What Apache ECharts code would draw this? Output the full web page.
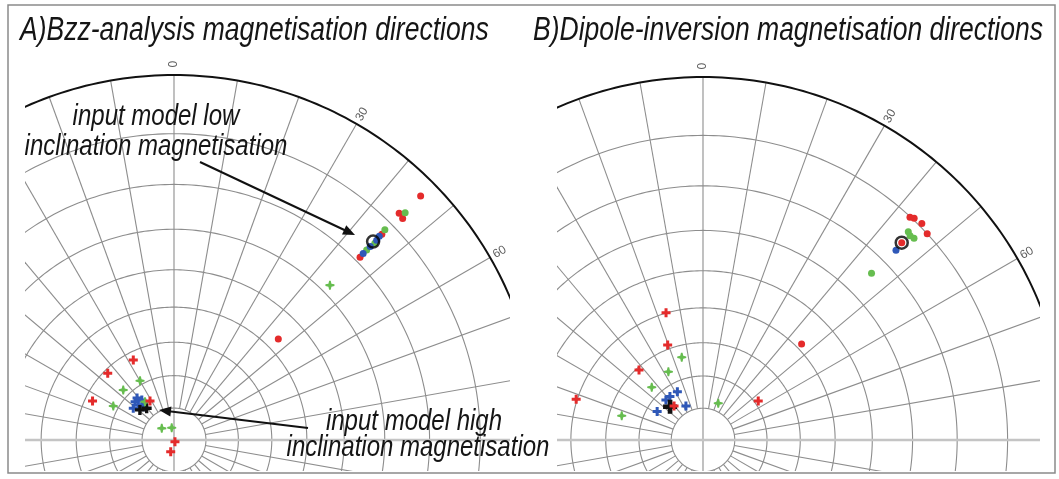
<!DOCTYPE html>
<html><head><meta charset="utf-8">
<script src="https://cdn.jsdelivr.net/npm/echarts@6/dist/echarts.min.js"></script>
<style>
html,body{margin:0;padding:0;background:#fff;}
#wrap{position:relative;width:1059px;height:479px;overflow:hidden;background:#fff;}
#pa,#pb{position:absolute;top:0;overflow:hidden;}
#pa{left:25px;width:485px;height:471px;}
#pb{left:557px;width:483px;height:471px;}
#overlay{position:absolute;left:0;top:0;width:1059px;height:479px;pointer-events:none;}
</style></head><body>
<div id="wrap"><div id="pa"></div><div id="pb"></div><div id="overlay"></div></div>
<script>
// ---------- grid definition ----------
const INCL_CIRCLES = [80, 70, 60, 50, 40, 30, 20, 10];
const DEC_SPOKES = [10,20,30,40,50,60,70,80,100,110,120,130,140,150,160,170,190,200,210,220,230,240,250,260,280,290,300,310,320,330,340,350];
const ANGLE_LABEL_DECS = [0, 30, 60];
const ANGLE_LABELS = ['0', '30', '60'];

// ---------- data: [declination, inclination] ----------
// A) Bzz-analysis
const A_redDots   = [[45.3,2.9],[44.8,7.6],[45.9,7.8],[45.3,12.6],[45.5,18.9],[45.9,46.6]];
const A_greenDots = [[45.5,6.8],[45.1,11.6],[45.6,14.8],[45.4,16.9]];
const A_blueDots  = [[45.4,14.1],[45.4,15.9],[45.4,17.9],[45.2,13.2]];
const A_ring      = [[45.1,14.8]];
const A_redCross   = [[333.0,62.4],[315.2,61.1],[295.6,62.2],[328.4,75.7],[150,89.4],[195.8,86.2]];
const A_greenCross = [[330.2,68.8],[314.6,67.9],[299.3,68.4],[322.9,75.0],[313.6,84.7],[349.4,86.1],[45.2,27.9]];
const A_blueCross  = [[314.5,73.0],[314.4,74.4],[307.9,73.9],[321.1,74.0],[317.3,75.9],[318.6,72.6]];
const A_blackCross = [[311.4,75.8],[319.3,76.9]];
// B) Dipole-inversion
const B_redDots   = [[42.9,10.1],[43.6,9.7],[45.3,9.4],[47.4,10.0],[45.8,48.5],[45.2,14.7]];
const B_greenDots = [[44.6,12.3],[46.3,12.4],[45.4,12.6],[45.3,23.7]];
const B_blueDots  = [[45.5,16.6]];
const B_ring      = [[45.2,14.7]];
const B_redCross   = [[343.8,49.9],[339.6,58.8],[317.6,60.7],[287.8,49.7],[54.8,68.9],[319.5,76.0]];
const B_greenCross = [[345.6,63.5],[333.1,66.2],[315.8,67.1],[286.6,63.7],[22.6,77.5]];
const B_blueCross  = [[332.0,72.9],[322.7,72.9],[317.2,72.9],[333.4,78.0],[301.8,73.1]];
const B_blackCross = [[315.3,75.3]];

(function () {
// ---------- styles ----------
const RED = '#e42b2b', GREEN = '#66bd4f', BLUE = '#2f58b8', BLACK = '#111111';
const GRID = '#8d8d8d';
const PLUS = 'path://M3,0H6V3H9V6H6V9H3V6H0V3H3Z';
const STAR = 'path://M3.7,0H5.3L6,3L9,3.7V5.3L6,6L5.3,9H3.7L3,6L0,5.3V3.7L3,3Z';
const FONT = '"Liberation Sans", Arial, sans-serif';
const RMAX = 1.06;   // radius axis extends a little past the primitive circle for the labels

// stereographic (equal-angle) projection of inclination
function proj(inc) { return Math.tan((90 - Math.abs(inc)) / 2 * Math.PI / 180); }
function toPolar(arr) { return arr.map(d => [proj(d[1]), d[0]]); }

function circleSeries(data, stroke, width) {
  return {
    type: 'custom', coordinateSystem: 'polar', silent: true, z: 1,
    data: data,
    renderItem: function (params, api) {
      const r = api.value(0), pts = [];
      for (let a = 0; a <= 360; a += 1) pts.push(api.coord([r, a]));
      return { type: 'polyline', shape: { points: pts }, style: { stroke: stroke, lineWidth: width, fill: null } };
    }
  };
}
function spokeSeries(data, r0, stroke, width) {
  return {
    type: 'custom', coordinateSystem: 'polar', silent: true, z: 1,
    data: data,
    renderItem: function (params, api) {
      const a = api.value(1);
      const p1 = api.coord([r0, a]), p2 = api.coord([1, a]);
      return { type: 'line', shape: { x1: p1[0], y1: p1[1], x2: p2[0], y2: p2[1] }, style: { stroke: stroke, lineWidth: width } };
    }
  };
}
function scat(data, symbol, size, color, z, extra) {
  return Object.assign({
    type: 'scatter', coordinateSystem: 'polar', silent: true, z: z,
    symbol: symbol, symbolSize: size, data: toPolar(data),
    itemStyle: { color: color, opacity: 1 }
  }, extra || {});
}

function panelOption(cx, cy, R, d) {
  return {
    animation: false,
    polar: { center: [cx, cy], radius: R * RMAX },
    angleAxis: { type: 'value', min: 0, max: 360, startAngle: 90, clockwise: true, show: false },
    radiusAxis: { type: 'value', min: 0, max: RMAX, show: false },
    series: [
      circleSeries(INCL_CIRCLES.map(i => [proj(i), 0]), GRID, 1.1),
      spokeSeries(DEC_SPOKES.map(a => [proj(80), a]), proj(80), GRID, 1.1),
      spokeSeries([[0, 0], [0, 180]], 0, GRID, 1.1),
      spokeSeries([[0, 90], [0, 270]], 0, '#c4c4c4', 2.6),
      circleSeries([[1, 0]], '#111', 2),
      {
        type: 'scatter', coordinateSystem: 'polar', silent: true, z: 3,
        symbol: 'circle', symbolSize: 1, itemStyle: { color: 'rgba(0,0,0,0)' },
        data: ANGLE_LABEL_DECS.map((a, i) => ({
          value: [1.03, a],
          label: { show: true, position: 'inside', formatter: ANGLE_LABELS[i], rotate: 90 - a,
                   color: '#333', fontSize: 12, fontFamily: FONT }
        }))
      },
      scat(d.redDots, 'circle', 7, RED, 4),
      scat(d.greenDots, 'circle', 7, GREEN, 5),
      scat(d.blueDots, 'circle', 7, BLUE, 6),
      scat(d.ring, 'circle', 12, 'rgba(0,0,0,0)', 7, { itemStyle: { color: 'rgba(0,0,0,0)', borderColor: '#000', borderWidth: 2.5 } }),
      scat(d.blueCross, PLUS, 9, BLUE, 8),
      scat(d.blackCross, PLUS, d.blackSize, BLACK, 9),
      scat(d.greenCross, STAR, 9, GREEN, 10),
      scat(d.redCross, PLUS, 9, RED, 11)
    ]
  };
}

const chartA = echarts.init(document.getElementById('pa'));
chartA.setOption(panelOption(149, 440, 365, {
  redDots: A_redDots, greenDots: A_greenDots, blueDots: A_blueDots, ring: A_ring,
  redCross: A_redCross, greenCross: A_greenCross, blueCross: A_blueCross, blackCross: A_blackCross, blackSize: 10
}));
const chartB = echarts.init(document.getElementById('pb'));
chartB.setOption(panelOption(146, 440, 363, {
  redDots: B_redDots, greenDots: B_greenDots, blueDots: B_blueDots, ring: B_ring,
  redCross: B_redCross, greenCross: B_greenCross, blueCross: B_blueCross, blackCross: B_blackCross, blackSize: 14
}));

// ---------- titles, annotations, frame ----------
function txt(x, y, s, size, sx, align) {
  return { type: 'text', x: x, y: y, scaleX: sx, z: 10,
    style: { text: s, font: 'italic ' + size + 'px ' + FONT, fill: '#151515', textAlign: align, textVerticalAlign: 'middle' } };
}
function arrow(x1, y1, x2, y2) {
  const dx = x2 - x1, dy = y2 - y1, L = Math.hypot(dx, dy), ux = dx / L, uy = dy / L;
  const hl = 12, hw = 5;
  const bx = x2 - ux * hl, by = y2 - uy * hl;
  return [
    { type: 'line', z: 10, shape: { x1: x1, y1: y1, x2: bx + ux * 2, y2: by + uy * 2 }, style: { stroke: '#111', lineWidth: 2 } },
    { type: 'polygon', z: 10, shape: { points: [[x2, y2], [bx - uy * hw, by + ux * hw], [bx + uy * hw, by - ux * hw]] }, style: { fill: '#111' } }
  ];
}
const chartTop = echarts.init(document.getElementById('overlay'));
chartTop.setOption({
  animation: false,
  graphic: [
    { type: 'rect', z: 1, shape: { x: 8, y: 5, width: 1047, height: 468 }, style: { fill: null, stroke: '#8a8a8a', lineWidth: 1.5 } },
    txt(20, 31, 'A)Bzz-analysis magnetisation directions', 34, 0.78, 'left'),
    txt(533, 31, 'B)Dipole-inversion magnetisation directions', 34, 0.78, 'left'),
    txt(156, 117, 'input model low', 30, 0.8, 'center'),
    txt(156, 147, 'inclination magnetisation', 30, 0.8, 'center'),
    txt(414, 422, 'input model high', 30, 0.8, 'center'),
    txt(418, 448, 'inclination magnetisation', 30, 0.8, 'center')
  ].concat(arrow(200, 162, 355, 235), arrow(308, 428, 159, 410))
});
})();
</script>
</body></html>
